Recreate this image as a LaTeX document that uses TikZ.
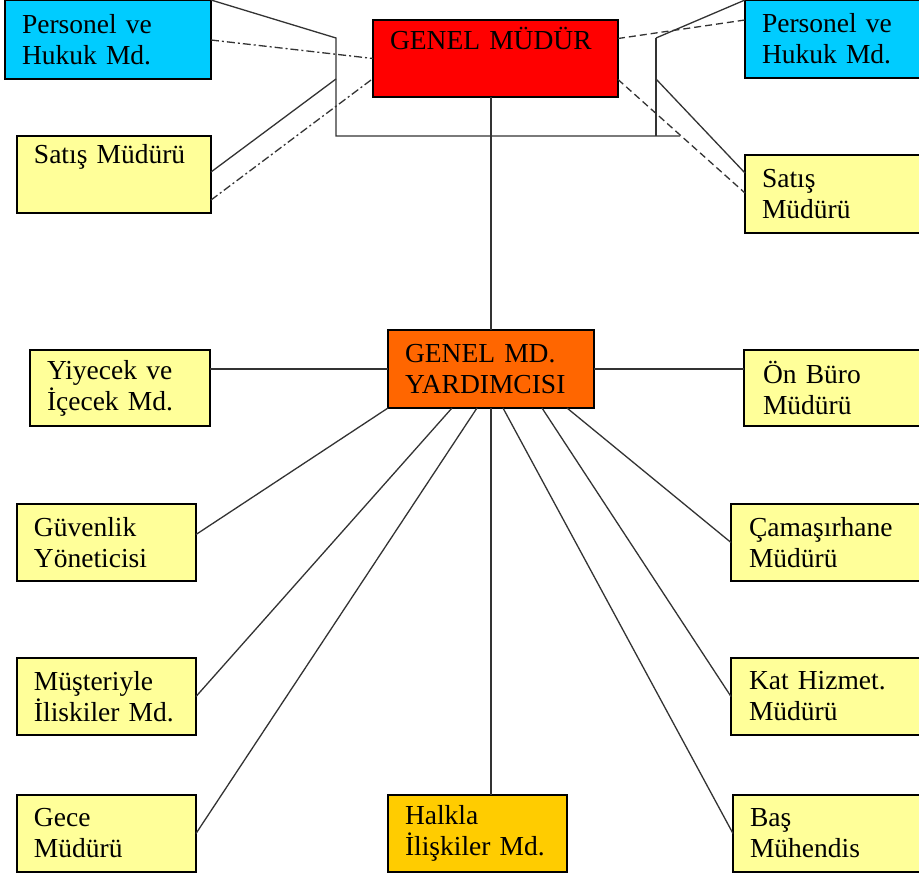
\documentclass[tikz,border=0pt]{standalone}
\usepackage{fontspec}
\setmainfont{Liberation Serif}

\definecolor{lightblue}{HTML}{00CCFF}
\definecolor{paleyellow}{HTML}{FFFF99}
\definecolor{darkorange}{HTML}{FF6600}
\definecolor{gold}{HTML}{FFCC00}
\definecolor{linegray}{HTML}{333333}

\begin{document}
\begin{tikzpicture}[x=1pt,y=-1pt,
  unit/.style={draw, line width=1.5pt, anchor=north west, minimum height=77pt,
    inner xsep=17pt, inner ysep=0pt, outer sep=0pt, align=left,
    font=\fontsize{27.5}{31}\selectfont},
  link/.style={draw=linegray, line width=1.3pt},
  dashdotlink/.style={link, dash pattern=on 8pt off 3pt on 2pt off 3pt},
  dashlink/.style={link, dash pattern=on 7pt off 4pt}]
  \clip (0,0) rectangle (919,878);
  \fill[white] (0,0) rectangle (919,878);
  %
  % top level
  \node[unit, fill=red, text width=211pt] (gm) at (373,20) {GENEL MÜDÜR\\\strut};
  \node[unit, fill=lightblue, text width=172pt, minimum height=79pt] (pl) at (5,0) {Personel ve\\Hukuk Md.};
  \node[unit, fill=paleyellow, text width=160pt] (sl) at (17,136) {Satış Müdürü\\\strut};
  \node[unit, fill=lightblue, text width=190pt, minimum height=78pt] (pr) at (745,0) {Personel ve\\Hukuk Md.};
  \node[unit, fill=paleyellow, text width=190pt, minimum height=78pt] (sr) at (745,155) {Satış\\Müdürü};
  %
  \coordinate (lbt) at (336,38);
  \coordinate (lbm) at (336,79);
  \coordinate (lbb) at (336,136);
  \coordinate (rbt) at (656,38);
  \coordinate (rbm) at (656,79);
  \coordinate (rbb) at (656,136);
  \coordinate (rbe) at (680,136);
  %
  \draw[link] (pl.north east) -- (lbt) -- (lbb) -- (rbe);
  \draw[link] ([yshift=-36pt]sl.north east) -- (lbm);
  \draw[link] (rbt) -- (rbb);
  \draw[link] (rbt) -- (pr.north west);
  \draw[link] (rbm) -- ([yshift=-18pt]sr.north west);
  \draw[dashdotlink] ([yshift=-40pt]pl.north east) -- (gm.west);
  \draw[dashdotlink] ([yshift=13pt]sl.south east) -- ([yshift=-20pt]gm.west);
  \draw[dashlink] ([yshift=20pt]gm.east) -- ([yshift=-20pt]pr.north west);
  \draw[dashlink] ([yshift=-21pt]gm.east) -- ([yshift=-38pt]sr.north west);
  %
  % second level
  \node[unit, fill=darkorange, text width=172pt, minimum height=78pt] (gmy) at (388,330) {GENEL MD.\\YARDIMCISI};
  \node[unit, fill=paleyellow, text width=146pt, minimum height=76pt] (yiyecek) at (30,350) {Yiyecek ve\\İçecek Md.};
  \node[unit, fill=paleyellow, text width=180pt, minimum height=76pt, inner xsep=19pt] (onburo) at (744,350) {Ön Büro\\Müdürü};
  \node[unit, fill=paleyellow, text width=145pt] (guvenlik) at (17,504) {Güvenlik\\Yöneticisi};
  \node[unit, fill=paleyellow, text width=190pt, inner xsep=18pt] (camasir) at (731,504) {Çamaşırhane\\Müdürü};
  \node[unit, fill=paleyellow, text width=145pt] (musteri) at (17,658) {Müşteriyle\\İliskiler Md.};
  \node[unit, fill=paleyellow, text width=190pt, inner xsep=18pt] (kat) at (731,658) {Kat Hizmet.\\Müdürü};
  \node[unit, fill=paleyellow, text width=145pt] (gece) at (17,795) {Gece\\Müdürü};
  \node[unit, fill=gold, text width=145pt] (halkla) at (388,795) {Halkla\\İlişkiler Md.};
  \node[unit, fill=paleyellow, text width=190pt] (bas) at (733,795) {Baş\\Mühendis};
  %
  \draw[link] (gmy.north) -- (gmy.north |- gm.south);
  \draw[link] (gmy.west) -- (yiyecek.east |- gmy.west);
  \draw[link] (gmy.east) -- (onburo.west |- gmy.east);
  \draw[link] (gmy.south) -- (gmy.south |- halkla.north);
  \draw[link] (gmy.south west) -- ([yshift=8pt]guvenlik.east);
  \draw[link] ([xshift=64pt]gmy.south west) -- (musteri.east);
  \draw[link] ([xshift=89pt]gmy.south west) -- (gece.east);
  \draw[link] ([xshift=115pt]gmy.south west) -- (bas.west);
  \draw[link] ([xshift=154pt]gmy.south west) -- (kat.west);
  \draw[link] ([xshift=179pt]gmy.south west) -- (camasir.west);
  %
\end{tikzpicture}
\end{document}
